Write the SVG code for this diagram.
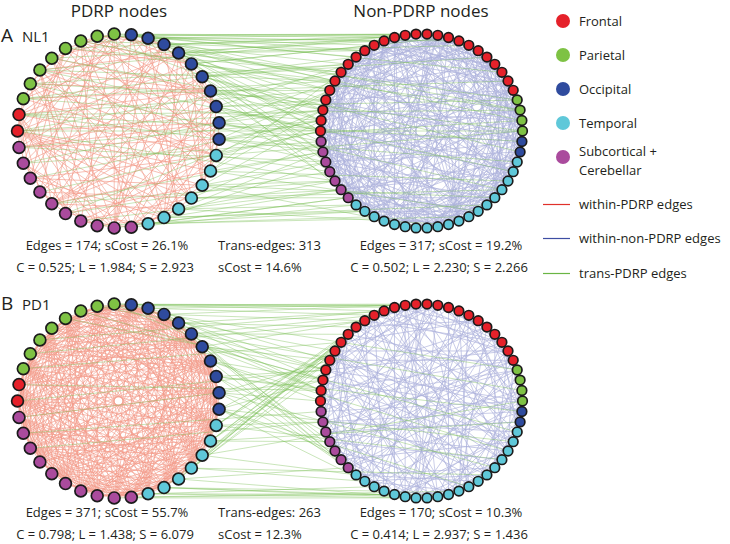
<svg xmlns="http://www.w3.org/2000/svg" xmlns:xlink="http://www.w3.org/1999/xlink" width="730" height="544" viewBox="0 0 730 544">
<style>
text{font-family:"Open Sans","Noto Sans","Liberation Sans",sans-serif;fill:#231f20}
.hd{font-size:17px}
.pl{font-size:19px}
.pn{font-size:15px}
.st{font-size:13px}
.lg{font-size:13px}
.m{text-anchor:middle}
.nd circle{stroke:#1b1b1b;stroke-width:1.7}
.f{fill:#e5212a}.p{fill:#7ec244}.o{fill:#2f4b9e}.t{fill:#5fc8d9}.s{fill:#aa4b9d}
.re{stroke:#ec5a3e;stroke-width:.55;fill:none;opacity:.62}
.be{stroke:#7880c6;stroke-width:.6;fill:none;opacity:.6}
.ge{stroke:#79be52;stroke-width:.65;fill:none;opacity:.62}
.ll{stroke-width:1.2}
</style>
<defs>
<path id="ra1" d="M97 0L84.7 47.3M97 0L20.4 94.8M97 0L-57.7 78M97 0L-93.9 24.4"/>
<path id="ra2" d="M97 0L64.1 72.8M97 0L-28.4 92.7M97 0L-88.4 39.9"/>
<path id="ra3" d="M97 0L91.5 32.3M97 0L36.2 90M97 0L-12.3 96.2M97 0L-70 67.1M97 0L-96.7 8.2"/>
<path id="ra4" d="M97 0L75.5 60.9M97 0L4.1 96.9M97 0L-43.7 86.6M97 0L-80.4 54.3"/>
<path id="rb1" d="M97 0L91.5 32.3M97 0L75.5 60.9M97 0L64.1 72.8M97 0L36.2 90M97 0L4.1 96.9M97 0L-28.4 92.7M97 0L-57.7 78M97 0L-70 67.1M97 0L-88.4 39.9M97 0L-96.7 8.2"/>
<path id="rb2" d="M97 0L84.7 47.3M97 0L75.5 60.9M97 0L50.9 82.6M97 0L20.4 94.8M97 0L-12.3 96.2M97 0L-43.7 86.6M97 0L-57.7 78M97 0L-80.4 54.3M97 0L-93.9 24.4"/>
<path id="ba1" d="M97 0L83.1 50M97 0L45.4 85.7M97 0L-15.7 95.7M97 0L-70.4 66.7M97 0L-94.7 20.8"/>
<path id="ba2" d="M97 0L88 40.7M97 0L54.4 80.3M97 0L15.7 95.7M97 0L-45.4 85.7M97 0L-88 40.7M97 0L-96.4 10.5"/>
<path id="ba3" d="M97 0L70.4 66.7M97 0L25.9 93.5M97 0L-5.2 96.9M97 0L-35.9 90.1M97 0L-83.1 50"/>
<path id="ba4" d="M97 0L62.8 73.9M97 0L35.9 90.1M97 0L5.2 96.9M97 0L-54.4 80.3M97 0L-91.9 31"/>
<path id="bb1" d="M97 0L54.4 80.3M97 0L-45.4 85.7M97 0L-96.4 10.5"/>
<path id="bb2" d="M97 0L77.2 58.7M97 0L5.2 96.9M97 0L-83.1 50"/>
<path id="bb3" d="M97 0L25.9 93.5M97 0L-62.8 73.9M97 0L-91.9 31"/>
</defs>

<g id="titles">
<text class="hd m" x="119" y="17">PDRP nodes</text>
<text class="hd m" x="421" y="17">Non-PDRP nodes</text>
<text class="pl" x="1" y="42">A</text><text class="pn" x="22" y="42">NL1</text>
<text class="pl" x="1" y="310">B</text><text class="pn" x="22" y="310">PD1</text>
</g>

<g id="connectors">
<!-- A within-PDRP -->
<g class="re" transform="translate(118.5 131) scale(1.0412 1)">
<use href="#ra1" transform="rotate(4.86)"/><use href="#ra3" transform="rotate(14.59)"/><use href="#ra2" transform="rotate(24.32)"/><use href="#ra4" transform="rotate(34.05)"/><use href="#ra3" transform="rotate(43.78)"/><use href="#ra1" transform="rotate(53.51)"/><use href="#ra4" transform="rotate(63.24)"/><use href="#ra2" transform="rotate(72.97)"/><use href="#ra1" transform="rotate(82.7)"/><use href="#ra3" transform="rotate(92.43)"/><use href="#ra4" transform="rotate(102.16)"/><use href="#ra2" transform="rotate(111.89)"/><use href="#ra3" transform="rotate(121.62)"/><use href="#ra1" transform="rotate(131.35)"/><use href="#ra2" transform="rotate(141.08)"/><use href="#ra4" transform="rotate(150.81)"/><use href="#ra1" transform="rotate(160.54)"/><use href="#ra3" transform="rotate(170.27)"/><use href="#ra3" transform="rotate(180)"/><use href="#ra4" transform="rotate(189.73)"/><use href="#ra3" transform="rotate(199.46)"/><use href="#ra1" transform="rotate(209.19)"/><use href="#ra4" transform="rotate(218.92)"/><use href="#ra2" transform="rotate(228.65)"/><use href="#ra1" transform="rotate(238.38)"/><use href="#ra3" transform="rotate(248.11)"/><use href="#ra4" transform="rotate(257.84)"/><use href="#ra2" transform="rotate(267.57)"/><use href="#ra3" transform="rotate(277.3)"/><use href="#ra1" transform="rotate(287.03)"/><use href="#ra2" transform="rotate(296.76)"/><use href="#ra4" transform="rotate(306.49)"/><use href="#ra1" transform="rotate(316.22)"/><use href="#ra3" transform="rotate(325.95)"/><use href="#ra2" transform="rotate(335.68)"/><use href="#ra4" transform="rotate(345.41)"/><use href="#ra3" transform="rotate(355.14)"/>
</g>
<!-- B within-PDRP -->
<g class="re" transform="translate(118.5 401) scale(1.0412 1)">
<use href="#rb1" transform="rotate(4.86)"/><use href="#rb2" transform="rotate(14.59)"/><use href="#rb1" transform="rotate(24.32)"/><use href="#rb2" transform="rotate(34.05)"/><use href="#rb1" transform="rotate(43.78)"/><use href="#rb2" transform="rotate(53.51)"/><use href="#rb1" transform="rotate(63.24)"/><use href="#rb2" transform="rotate(72.97)"/><use href="#rb1" transform="rotate(82.7)"/><use href="#rb2" transform="rotate(92.43)"/><use href="#rb1" transform="rotate(102.16)"/><use href="#rb2" transform="rotate(111.89)"/><use href="#rb1" transform="rotate(121.62)"/><use href="#rb2" transform="rotate(131.35)"/><use href="#rb1" transform="rotate(141.08)"/><use href="#rb2" transform="rotate(150.81)"/><use href="#rb1" transform="rotate(160.54)"/><use href="#rb2" transform="rotate(170.27)"/><use href="#rb1" transform="rotate(180)"/><use href="#rb2" transform="rotate(189.73)"/><use href="#rb1" transform="rotate(199.46)"/><use href="#rb2" transform="rotate(209.19)"/><use href="#rb1" transform="rotate(218.92)"/><use href="#rb2" transform="rotate(228.65)"/><use href="#rb1" transform="rotate(238.38)"/><use href="#rb2" transform="rotate(248.11)"/><use href="#rb1" transform="rotate(257.84)"/><use href="#rb2" transform="rotate(267.57)"/><use href="#rb1" transform="rotate(277.3)"/><use href="#rb2" transform="rotate(287.03)"/><use href="#rb1" transform="rotate(296.76)"/><use href="#rb2" transform="rotate(306.49)"/><use href="#rb1" transform="rotate(316.22)"/><use href="#rb2" transform="rotate(325.95)"/><use href="#rb1" transform="rotate(335.68)"/><use href="#rb2" transform="rotate(345.41)"/><use href="#rb1" transform="rotate(355.14)"/>
</g>
<!-- A within-non-PDRP -->
<g class="be" transform="translate(421.5 131) scale(1.0412 1)">
<use href="#ba1"/><use href="#ba2" transform="rotate(6.21)"/><use href="#ba3" transform="rotate(12.41)"/><use href="#ba4" transform="rotate(18.62)"/><use href="#ba2" transform="rotate(24.83)"/><use href="#ba1" transform="rotate(31.03)"/><use href="#ba4" transform="rotate(37.24)"/><use href="#ba3" transform="rotate(43.45)"/><use href="#ba2" transform="rotate(49.66)"/><use href="#ba4" transform="rotate(55.86)"/><use href="#ba1" transform="rotate(62.07)"/><use href="#ba3" transform="rotate(68.28)"/><use href="#ba3" transform="rotate(74.48)"/><use href="#ba2" transform="rotate(80.69)"/><use href="#ba4" transform="rotate(86.9)"/><use href="#ba1" transform="rotate(93.1)"/><use href="#ba2" transform="rotate(99.31)"/><use href="#ba3" transform="rotate(105.52)"/><use href="#ba1" transform="rotate(111.72)"/><use href="#ba4" transform="rotate(117.93)"/><use href="#ba4" transform="rotate(124.14)"/><use href="#ba2" transform="rotate(130.34)"/><use href="#ba3" transform="rotate(136.55)"/><use href="#ba1" transform="rotate(142.76)"/><use href="#ba3" transform="rotate(148.97)"/><use href="#ba4" transform="rotate(155.17)"/><use href="#ba2" transform="rotate(161.38)"/><use href="#ba1" transform="rotate(167.59)"/><use href="#ba2" transform="rotate(173.79)"/><use href="#ba1" transform="rotate(180)"/><use href="#ba3" transform="rotate(186.21)"/><use href="#ba4" transform="rotate(192.41)"/><use href="#ba1" transform="rotate(198.62)"/><use href="#ba3" transform="rotate(204.83)"/><use href="#ba2" transform="rotate(211.03)"/><use href="#ba4" transform="rotate(217.24)"/><use href="#ba4" transform="rotate(223.45)"/><use href="#ba1" transform="rotate(229.66)"/><use href="#ba2" transform="rotate(235.86)"/><use href="#ba3" transform="rotate(242.07)"/><use href="#ba3" transform="rotate(248.28)"/><use href="#ba2" transform="rotate(254.48)"/><use href="#ba1" transform="rotate(260.69)"/><use href="#ba4" transform="rotate(266.9)"/><use href="#ba2" transform="rotate(273.1)"/><use href="#ba3" transform="rotate(279.31)"/><use href="#ba4" transform="rotate(285.52)"/><use href="#ba1" transform="rotate(291.72)"/><use href="#ba1" transform="rotate(297.93)"/><use href="#ba4" transform="rotate(304.14)"/><use href="#ba3" transform="rotate(310.34)"/><use href="#ba2" transform="rotate(316.55)"/><use href="#ba2" transform="rotate(322.76)"/><use href="#ba3" transform="rotate(328.97)"/><use href="#ba1" transform="rotate(335.17)"/><use href="#ba4" transform="rotate(341.38)"/><use href="#ba3" transform="rotate(347.59)"/><use href="#ba2" transform="rotate(353.79)"/>
</g>
<!-- B within-non-PDRP -->
<g class="be" transform="translate(421.5 401) scale(1.0412 1)">
<use href="#bb1"/><use href="#bb3" transform="rotate(6.21)"/><use href="#bb2" transform="rotate(12.41)"/><use href="#bb2" transform="rotate(18.62)"/><use href="#bb1" transform="rotate(24.83)"/><use href="#bb3" transform="rotate(31.03)"/><use href="#bb1" transform="rotate(37.24)"/><use href="#bb2" transform="rotate(43.45)"/><use href="#bb3" transform="rotate(49.66)"/><use href="#bb3" transform="rotate(55.86)"/><use href="#bb2" transform="rotate(62.07)"/><use href="#bb1" transform="rotate(68.28)"/><use href="#bb2" transform="rotate(74.48)"/><use href="#bb3" transform="rotate(80.69)"/><use href="#bb1" transform="rotate(86.9)"/><use href="#bb1" transform="rotate(93.1)"/><use href="#bb3" transform="rotate(99.31)"/><use href="#bb2" transform="rotate(105.52)"/><use href="#bb3" transform="rotate(111.72)"/><use href="#bb1" transform="rotate(117.93)"/><use href="#bb2" transform="rotate(124.14)"/><use href="#bb2" transform="rotate(130.34)"/><use href="#bb3" transform="rotate(136.55)"/><use href="#bb1" transform="rotate(142.76)"/><use href="#bb3" transform="rotate(148.97)"/><use href="#bb2" transform="rotate(155.17)"/><use href="#bb1" transform="rotate(161.38)"/><use href="#bb1" transform="rotate(167.59)"/><use href="#bb2" transform="rotate(173.79)"/><use href="#bb3" transform="rotate(180)"/><use href="#bb2" transform="rotate(186.21)"/><use href="#bb1" transform="rotate(192.41)"/><use href="#bb3" transform="rotate(198.62)"/><use href="#bb3" transform="rotate(204.83)"/><use href="#bb1" transform="rotate(211.03)"/><use href="#bb2" transform="rotate(217.24)"/><use href="#bb1" transform="rotate(223.45)"/><use href="#bb3" transform="rotate(229.66)"/><use href="#bb2" transform="rotate(235.86)"/><use href="#bb2" transform="rotate(242.07)"/><use href="#bb3" transform="rotate(248.28)"/><use href="#bb1" transform="rotate(254.48)"/><use href="#bb3" transform="rotate(260.69)"/><use href="#bb1" transform="rotate(266.9)"/><use href="#bb2" transform="rotate(273.1)"/><use href="#bb1" transform="rotate(279.31)"/><use href="#bb2" transform="rotate(285.52)"/><use href="#bb3" transform="rotate(291.72)"/><use href="#bb3" transform="rotate(297.93)"/><use href="#bb2" transform="rotate(304.14)"/><use href="#bb1" transform="rotate(310.34)"/><use href="#bb2" transform="rotate(316.55)"/><use href="#bb1" transform="rotate(322.76)"/><use href="#bb3" transform="rotate(328.97)"/><use href="#bb1" transform="rotate(335.17)"/><use href="#bb3" transform="rotate(341.38)"/><use href="#bb2" transform="rotate(347.59)"/><use href="#bb3" transform="rotate(353.79)"/>
</g>
<!-- A trans-PDRP -->
<path class="ge" d="M97.2 36.2L384.1 40.9M114.2 34.1L405.2 35.3M131.3 34.8L394.5 37.5M131.3 34.8L427 34.1M148.1 38.2L374.2 45.3M148.1 38.2L416 34.1M164 44.4L384.1 40.9M164 44.4L437.8 35.3M178.6 53L364.8 50.7M178.6 53L405.2 35.3M191.4 63.9L374.2 45.3M191.4 63.9L448.5 37.5M114.2 34.1L356.1 57.1M97.2 36.2L427 34.1M148.1 38.2L458.9 40.9M164 44.4L348.2 64.3M178.6 53L468.8 45.3M131.3 34.8L364.8 50.7
M164 44.4L329.8 90.3M178.6 53L321.1 120.5M178.6 53L341.1 72.3M191.4 63.9L320.5 131M191.4 63.9L335 81M202.2 76.7L322.9 110.1M202.2 76.7L348.2 64.3M202.2 76.7L322.9 151.9M210.5 91L321.1 120.5M210.5 91L329.8 90.3M210.5 91L329.8 171.7M216.2 106.6L325.8 100M216.2 106.6L320.5 131M216.2 106.6L335 181M219.1 122.8L322.9 110.1M219.1 122.8L321.1 141.5M219.1 122.8L335 81M219.1 139.2L321.1 120.5M219.1 139.2L325.8 162M219.1 139.2L329.8 90.3M202.2 76.7L341.1 189.7M191.4 63.9L325.8 162M210.5 91L321.1 141.5M216.2 106.6L348.2 64.3M178.6 53L322.9 151.9M164 44.4L320.5 131M148.1 38.2L322.9 110.1M131.3 34.8L335 81M114.2 34.1L325.8 100M97.2 36.2L321.1 120.5M80.8 41L329.8 90.3M65.5 48.4L341.1 72.3M51.8 58.2L322.9 110.1M39.9 70L335 81
M164 44.4L521.9 120.5M191.4 63.9L520.1 110.1M210.5 91L522.5 131M219.1 122.8L521.9 141.5M216.2 106.6L517.2 100M202.2 76.7L520.1 151.9M219.1 139.2L521.9 120.5M216.2 155.4L522.5 131M178.6 53L517.2 100M148.1 38.2L520.1 110.1M131.3 34.8L501.9 72.3M202.2 76.7L486.9 57.1M216.2 106.6L513.2 171.7M219.1 122.8L501.9 189.7M210.5 91L508 81M219.1 139.2L517.2 162M210.5 171L508 181M202.2 185.3L494.8 197.7
M17.5 131L322.9 110.1M17.5 131L341.1 72.3M19 114.6L329.8 90.3M19 114.6L320.5 131M17.5 131L522.5 131M19 114.6L520.1 110.1M19 147.4L321.1 120.5M23.3 98.7L335 81M30.3 83.7L348.2 64.3M23.3 163.3L321.1 141.5
M216.2 155.4L320.5 131M216.2 155.4L329.8 171.7M210.5 171L322.9 151.9M210.5 171L322.9 110.1M202.2 185.3L335 181M202.2 185.3L325.8 162M191.4 198.1L341.1 189.7M191.4 198.1L348.2 197.7M178.6 209L356.1 204.9M178.6 209L335 181M164 217.6L364.8 211.3M164 217.6L341.1 189.7M148.1 223.8L374.2 216.7M148.1 223.8L348.2 197.7M216.2 155.4L329.8 90.3M210.5 171L341.1 72.3M202.2 185.3L321.1 120.5M191.4 198.1L321.1 141.5M178.6 209L322.9 151.9M164 217.6L486.9 204.9M148.1 223.8L468.8 216.7M178.6 209L448.5 224.5M191.4 198.1L501.9 189.7M202.2 185.3L427 227.9M210.5 171L478.2 211.3M131.3 227.2L356.1 204.9M114.2 227.9L348.2 197.7M97.2 225.8L364.8 211.3M164 217.6L325.8 162
M39.9 70L405.2 35.3M65.5 48.4L427 34.1M80.8 41L364.8 50.7M51.8 58.2L384.1 40.9M23.3 98.7L321.1 120.5M30.3 83.7L322.9 151.9M65.5 213.6L329.8 171.7M39.9 192L320.5 131M80.8 221L341.1 189.7M51.8 203.8L322.9 151.9
M30.3 178.3L321.1 120.5M23.3 163.3L325.8 100M19 147.4L325.8 162M23.3 98.7L356.1 57.1M30.3 83.7L325.8 100M51.8 203.8L335 181M65.5 213.6L322.9 110.1M19 114.6L322.9 151.9M17.5 131L335 181M39.9 70L320.5 131"/>
<!-- B trans-PDRP -->
<path class="ge" d="M114.2 304.1L394.5 307.5M131.3 304.8L384.1 310.9M131.3 304.8L416 304.1M148.1 308.2L374.2 315.3M148.1 308.2L405.2 305.3M164 314.4L364.8 320.7M164 314.4L427 304.1M178.6 323L384.1 310.9M178.6 323L356.1 327.1M191.4 333.9L374.2 315.3M97.2 306.2L405.2 305.3M114.2 304.1L437.8 305.3M191.4 333.9L348.2 334.3M202.2 346.7L364.8 320.7
M164 314.4L322.9 380.1M178.6 323L321.1 390.5M191.4 333.9L325.8 370M202.2 346.7L321.1 390.5M202.2 346.7L329.8 360.3M210.5 361L322.9 380.1M210.5 361L320.5 401M216.2 376.6L325.8 370M216.2 376.6L321.1 390.5M219.1 392.8L329.8 360.3M219.1 392.8L320.5 401M219.1 409.2L322.9 380.1M219.1 409.2L335 351M148.1 308.2L329.8 360.3M131.3 304.8L325.8 370M114.2 304.1L321.1 390.5M97.2 306.2L335 351M80.8 311L322.9 380.1M65.5 318.4L325.8 370
M216.2 425.4L335 351M216.2 425.4L348.2 334.3M210.5 441L329.8 360.3M210.5 441L341.1 342.3M202.2 455.3L335 351M202.2 455.3L356.1 327.1M191.4 468.1L341.1 342.3M191.4 468.1L325.8 370M178.6 479L348.2 334.3M178.6 479L329.8 360.3M164 487.6L335 351M216.2 425.4L364.8 320.7M210.5 441L374.2 315.3
M178.6 323L335 451M191.4 333.9L348.2 467.7M202.2 346.7L329.8 441.7M210.5 361L356.1 474.9M216.2 376.6L325.8 432M219.1 392.8L341.1 459.7M219.1 409.2L335 451M164 314.4L348.2 467.7M219.1 409.2L364.8 481.3M216.2 376.6L374.2 486.7
M202.2 346.7L517.2 432M210.5 361L508 451M216.2 376.6L521.9 411.5M219.1 392.8L494.8 467.7M219.1 409.2L513.2 441.7M216.2 425.4L501.9 459.7M210.5 441L520.1 421.9M191.4 333.9L521.9 390.5M202.2 455.3L522.5 401M191.4 468.1L486.9 474.9M164 314.4L517.2 370M219.1 409.2L468.8 486.7
M178.6 479L405.2 496.7M164 487.6L427 497.9M164 487.6L384.1 491.1M148.1 493.8L416 497.9M148.1 493.8L448.5 494.5M131.3 497.2L394.5 494.5M191.4 468.1L364.8 481.3M178.6 479L348.2 467.7M164 487.6L437.8 496.7M202.2 455.3L356.1 474.9M148.1 493.8L374.2 486.7M131.3 497.2L458.9 491.1M114.2 497.9L427 497.9M210.5 441L329.8 441.7M216.2 425.4L322.9 421.9
M17.5 401L325.8 370M19 384.6L321.1 390.5M23.3 368.7L341.1 342.3M19 417.4L322.9 380.1M30.3 353.7L364.8 320.7M23.3 433.3L321.1 411.5M39.9 340L384.1 310.9M30.3 448.3L322.9 421.9"/>
</g>

<g id="nodes-A-pdrp" class="nd">
<g id="A-p0"><circle class="o" cx="219.1" cy="139.2" r="5.9"/></g>
<g id="A-p1"><circle class="t" cx="216.2" cy="155.4" r="5.9"/></g>
<g id="A-p2"><circle class="t" cx="210.5" cy="171" r="5.9"/></g>
<g id="A-p3"><circle class="t" cx="202.2" cy="185.3" r="5.9"/></g>
<g id="A-p4"><circle class="t" cx="191.4" cy="198.1" r="5.9"/></g>
<g id="A-p5"><circle class="t" cx="178.6" cy="209" r="5.9"/></g>
<g id="A-p6"><circle class="t" cx="164" cy="217.6" r="5.9"/></g>
<g id="A-p7"><circle class="t" cx="148.1" cy="223.8" r="5.9"/></g>
<g id="A-p8"><circle class="s" cx="131.3" cy="227.2" r="5.9"/></g>
<g id="A-p9"><circle class="s" cx="114.2" cy="227.9" r="5.9"/></g>
<g id="A-p10"><circle class="s" cx="97.2" cy="225.8" r="5.9"/></g>
<g id="A-p11"><circle class="s" cx="80.8" cy="221" r="5.9"/></g>
<g id="A-p12"><circle class="s" cx="65.5" cy="213.6" r="5.9"/></g>
<g id="A-p13"><circle class="s" cx="51.8" cy="203.8" r="5.9"/></g>
<g id="A-p14"><circle class="s" cx="39.9" cy="192" r="5.9"/></g>
<g id="A-p15"><circle class="s" cx="30.3" cy="178.3" r="5.9"/></g>
<g id="A-p16"><circle class="s" cx="23.3" cy="163.3" r="5.9"/></g>
<g id="A-p17"><circle class="s" cx="19" cy="147.4" r="5.9"/></g>
<g id="A-p18"><circle class="f" cx="17.5" cy="131" r="5.9"/></g>
<g id="A-p19"><circle class="f" cx="19" cy="114.6" r="5.9"/></g>
<g id="A-p20"><circle class="p" cx="23.3" cy="98.7" r="5.9"/></g>
<g id="A-p21"><circle class="p" cx="30.3" cy="83.7" r="5.9"/></g>
<g id="A-p22"><circle class="p" cx="39.9" cy="70" r="5.9"/></g>
<g id="A-p23"><circle class="p" cx="51.8" cy="58.2" r="5.9"/></g>
<g id="A-p24"><circle class="p" cx="65.5" cy="48.4" r="5.9"/></g>
<g id="A-p25"><circle class="p" cx="80.8" cy="41" r="5.9"/></g>
<g id="A-p26"><circle class="p" cx="97.2" cy="36.2" r="5.9"/></g>
<g id="A-p27"><circle class="p" cx="114.2" cy="34.1" r="5.9"/></g>
<g id="A-p28"><circle class="o" cx="131.3" cy="34.8" r="5.9"/></g>
<g id="A-p29"><circle class="o" cx="148.1" cy="38.2" r="5.9"/></g>
<g id="A-p30"><circle class="o" cx="164" cy="44.4" r="5.9"/></g>
<g id="A-p31"><circle class="o" cx="178.6" cy="53" r="5.9"/></g>
<g id="A-p32"><circle class="o" cx="191.4" cy="63.9" r="5.9"/></g>
<g id="A-p33"><circle class="o" cx="202.2" cy="76.7" r="5.9"/></g>
<g id="A-p34"><circle class="o" cx="210.5" cy="91" r="5.9"/></g>
<g id="A-p35"><circle class="o" cx="216.2" cy="106.6" r="5.9"/></g>
<g id="A-p36"><circle class="o" cx="219.1" cy="122.8" r="5.9"/></g>
</g>

<g id="nodes-A-nonpdrp" class="nd">
<g id="A-n0"><circle class="p" cx="522.5" cy="131" r="4.8"/></g>
<g id="A-n1"><circle class="o" cx="521.9" cy="141.5" r="4.8"/></g>
<g id="A-n2"><circle class="o" cx="520.1" cy="151.9" r="4.8"/></g>
<g id="A-n3"><circle class="t" cx="517.2" cy="162" r="4.8"/></g>
<g id="A-n4"><circle class="t" cx="513.2" cy="171.7" r="4.8"/></g>
<g id="A-n5"><circle class="t" cx="508" cy="181" r="4.8"/></g>
<g id="A-n6"><circle class="t" cx="501.9" cy="189.7" r="4.8"/></g>
<g id="A-n7"><circle class="t" cx="494.8" cy="197.7" r="4.8"/></g>
<g id="A-n8"><circle class="t" cx="486.9" cy="204.9" r="4.8"/></g>
<g id="A-n9"><circle class="t" cx="478.2" cy="211.3" r="4.8"/></g>
<g id="A-n10"><circle class="t" cx="468.8" cy="216.7" r="4.8"/></g>
<g id="A-n11"><circle class="t" cx="458.9" cy="221.1" r="4.8"/></g>
<g id="A-n12"><circle class="t" cx="448.5" cy="224.5" r="4.8"/></g>
<g id="A-n13"><circle class="t" cx="437.8" cy="226.7" r="4.8"/></g>
<g id="A-n14"><circle class="t" cx="427" cy="227.9" r="4.8"/></g>
<g id="A-n15"><circle class="t" cx="416" cy="227.9" r="4.8"/></g>
<g id="A-n16"><circle class="t" cx="405.2" cy="226.7" r="4.8"/></g>
<g id="A-n17"><circle class="t" cx="394.5" cy="224.5" r="4.8"/></g>
<g id="A-n18"><circle class="t" cx="384.1" cy="221.1" r="4.8"/></g>
<g id="A-n19"><circle class="t" cx="374.2" cy="216.7" r="4.8"/></g>
<g id="A-n20"><circle class="t" cx="364.8" cy="211.3" r="4.8"/></g>
<g id="A-n21"><circle class="t" cx="356.1" cy="204.9" r="4.8"/></g>
<g id="A-n22"><circle class="s" cx="348.2" cy="197.7" r="4.8"/></g>
<g id="A-n23"><circle class="s" cx="341.1" cy="189.7" r="4.8"/></g>
<g id="A-n24"><circle class="s" cx="335" cy="181" r="4.8"/></g>
<g id="A-n25"><circle class="s" cx="329.8" cy="171.7" r="4.8"/></g>
<g id="A-n26"><circle class="s" cx="325.8" cy="162" r="4.8"/></g>
<g id="A-n27"><circle class="s" cx="322.9" cy="151.9" r="4.8"/></g>
<g id="A-n28"><circle class="s" cx="321.1" cy="141.5" r="4.8"/></g>
<g id="A-n29"><circle class="f" cx="320.5" cy="131" r="4.8"/></g>
<g id="A-n30"><circle class="f" cx="321.1" cy="120.5" r="4.8"/></g>
<g id="A-n31"><circle class="f" cx="322.9" cy="110.1" r="4.8"/></g>
<g id="A-n32"><circle class="f" cx="325.8" cy="100" r="4.8"/></g>
<g id="A-n33"><circle class="f" cx="329.8" cy="90.3" r="4.8"/></g>
<g id="A-n34"><circle class="f" cx="335" cy="81" r="4.8"/></g>
<g id="A-n35"><circle class="f" cx="341.1" cy="72.3" r="4.8"/></g>
<g id="A-n36"><circle class="f" cx="348.2" cy="64.3" r="4.8"/></g>
<g id="A-n37"><circle class="f" cx="356.1" cy="57.1" r="4.8"/></g>
<g id="A-n38"><circle class="f" cx="364.8" cy="50.7" r="4.8"/></g>
<g id="A-n39"><circle class="f" cx="374.2" cy="45.3" r="4.8"/></g>
<g id="A-n40"><circle class="f" cx="384.1" cy="40.9" r="4.8"/></g>
<g id="A-n41"><circle class="f" cx="394.5" cy="37.5" r="4.8"/></g>
<g id="A-n42"><circle class="f" cx="405.2" cy="35.3" r="4.8"/></g>
<g id="A-n43"><circle class="f" cx="416" cy="34.1" r="4.8"/></g>
<g id="A-n44"><circle class="f" cx="427" cy="34.1" r="4.8"/></g>
<g id="A-n45"><circle class="f" cx="437.8" cy="35.3" r="4.8"/></g>
<g id="A-n46"><circle class="f" cx="448.5" cy="37.5" r="4.8"/></g>
<g id="A-n47"><circle class="f" cx="458.9" cy="40.9" r="4.8"/></g>
<g id="A-n48"><circle class="f" cx="468.8" cy="45.3" r="4.8"/></g>
<g id="A-n49"><circle class="f" cx="478.2" cy="50.7" r="4.8"/></g>
<g id="A-n50"><circle class="f" cx="486.9" cy="57.1" r="4.8"/></g>
<g id="A-n51"><circle class="f" cx="494.8" cy="64.3" r="4.8"/></g>
<g id="A-n52"><circle class="f" cx="501.9" cy="72.3" r="4.8"/></g>
<g id="A-n53"><circle class="f" cx="508" cy="81" r="4.8"/></g>
<g id="A-n54"><circle class="f" cx="513.2" cy="90.3" r="4.8"/></g>
<g id="A-n55"><circle class="p" cx="517.2" cy="100" r="4.8"/></g>
<g id="A-n56"><circle class="p" cx="520.1" cy="110.1" r="4.8"/></g>
<g id="A-n57"><circle class="p" cx="521.9" cy="120.5" r="4.8"/></g>
</g>

<g id="nodes-B-pdrp" class="nd">
<g id="B-p0"><circle class="o" cx="219.1" cy="409.2" r="5.9"/></g>
<g id="B-p1"><circle class="t" cx="216.2" cy="425.4" r="5.9"/></g>
<g id="B-p2"><circle class="t" cx="210.5" cy="441" r="5.9"/></g>
<g id="B-p3"><circle class="t" cx="202.2" cy="455.3" r="5.9"/></g>
<g id="B-p4"><circle class="t" cx="191.4" cy="468.1" r="5.9"/></g>
<g id="B-p5"><circle class="t" cx="178.6" cy="479" r="5.9"/></g>
<g id="B-p6"><circle class="t" cx="164" cy="487.6" r="5.9"/></g>
<g id="B-p7"><circle class="t" cx="148.1" cy="493.8" r="5.9"/></g>
<g id="B-p8"><circle class="s" cx="131.3" cy="497.2" r="5.9"/></g>
<g id="B-p9"><circle class="s" cx="114.2" cy="497.9" r="5.9"/></g>
<g id="B-p10"><circle class="s" cx="97.2" cy="495.8" r="5.9"/></g>
<g id="B-p11"><circle class="s" cx="80.8" cy="491" r="5.9"/></g>
<g id="B-p12"><circle class="s" cx="65.5" cy="483.6" r="5.9"/></g>
<g id="B-p13"><circle class="s" cx="51.8" cy="473.8" r="5.9"/></g>
<g id="B-p14"><circle class="s" cx="39.9" cy="462" r="5.9"/></g>
<g id="B-p15"><circle class="s" cx="30.3" cy="448.3" r="5.9"/></g>
<g id="B-p16"><circle class="s" cx="23.3" cy="433.3" r="5.9"/></g>
<g id="B-p17"><circle class="s" cx="19" cy="417.4" r="5.9"/></g>
<g id="B-p18"><circle class="f" cx="17.5" cy="401" r="5.9"/></g>
<g id="B-p19"><circle class="f" cx="19" cy="384.6" r="5.9"/></g>
<g id="B-p20"><circle class="p" cx="23.3" cy="368.7" r="5.9"/></g>
<g id="B-p21"><circle class="p" cx="30.3" cy="353.7" r="5.9"/></g>
<g id="B-p22"><circle class="p" cx="39.9" cy="340" r="5.9"/></g>
<g id="B-p23"><circle class="p" cx="51.8" cy="328.2" r="5.9"/></g>
<g id="B-p24"><circle class="p" cx="65.5" cy="318.4" r="5.9"/></g>
<g id="B-p25"><circle class="p" cx="80.8" cy="311" r="5.9"/></g>
<g id="B-p26"><circle class="p" cx="97.2" cy="306.2" r="5.9"/></g>
<g id="B-p27"><circle class="p" cx="114.2" cy="304.1" r="5.9"/></g>
<g id="B-p28"><circle class="o" cx="131.3" cy="304.8" r="5.9"/></g>
<g id="B-p29"><circle class="o" cx="148.1" cy="308.2" r="5.9"/></g>
<g id="B-p30"><circle class="o" cx="164" cy="314.4" r="5.9"/></g>
<g id="B-p31"><circle class="o" cx="178.6" cy="323" r="5.9"/></g>
<g id="B-p32"><circle class="o" cx="191.4" cy="333.9" r="5.9"/></g>
<g id="B-p33"><circle class="o" cx="202.2" cy="346.7" r="5.9"/></g>
<g id="B-p34"><circle class="o" cx="210.5" cy="361" r="5.9"/></g>
<g id="B-p35"><circle class="o" cx="216.2" cy="376.6" r="5.9"/></g>
<g id="B-p36"><circle class="o" cx="219.1" cy="392.8" r="5.9"/></g>
</g>

<g id="nodes-B-nonpdrp" class="nd">
<g id="B-n0"><circle class="p" cx="522.5" cy="401" r="4.8"/></g>
<g id="B-n1"><circle class="o" cx="521.9" cy="411.5" r="4.8"/></g>
<g id="B-n2"><circle class="o" cx="520.1" cy="421.9" r="4.8"/></g>
<g id="B-n3"><circle class="t" cx="517.2" cy="432" r="4.8"/></g>
<g id="B-n4"><circle class="t" cx="513.2" cy="441.7" r="4.8"/></g>
<g id="B-n5"><circle class="t" cx="508" cy="451" r="4.8"/></g>
<g id="B-n6"><circle class="t" cx="501.9" cy="459.7" r="4.8"/></g>
<g id="B-n7"><circle class="t" cx="494.8" cy="467.7" r="4.8"/></g>
<g id="B-n8"><circle class="t" cx="486.9" cy="474.9" r="4.8"/></g>
<g id="B-n9"><circle class="t" cx="478.2" cy="481.3" r="4.8"/></g>
<g id="B-n10"><circle class="t" cx="468.8" cy="486.7" r="4.8"/></g>
<g id="B-n11"><circle class="t" cx="458.9" cy="491.1" r="4.8"/></g>
<g id="B-n12"><circle class="t" cx="448.5" cy="494.5" r="4.8"/></g>
<g id="B-n13"><circle class="t" cx="437.8" cy="496.7" r="4.8"/></g>
<g id="B-n14"><circle class="t" cx="427" cy="497.9" r="4.8"/></g>
<g id="B-n15"><circle class="t" cx="416" cy="497.9" r="4.8"/></g>
<g id="B-n16"><circle class="t" cx="405.2" cy="496.7" r="4.8"/></g>
<g id="B-n17"><circle class="t" cx="394.5" cy="494.5" r="4.8"/></g>
<g id="B-n18"><circle class="t" cx="384.1" cy="491.1" r="4.8"/></g>
<g id="B-n19"><circle class="t" cx="374.2" cy="486.7" r="4.8"/></g>
<g id="B-n20"><circle class="t" cx="364.8" cy="481.3" r="4.8"/></g>
<g id="B-n21"><circle class="t" cx="356.1" cy="474.9" r="4.8"/></g>
<g id="B-n22"><circle class="s" cx="348.2" cy="467.7" r="4.8"/></g>
<g id="B-n23"><circle class="s" cx="341.1" cy="459.7" r="4.8"/></g>
<g id="B-n24"><circle class="s" cx="335" cy="451" r="4.8"/></g>
<g id="B-n25"><circle class="s" cx="329.8" cy="441.7" r="4.8"/></g>
<g id="B-n26"><circle class="s" cx="325.8" cy="432" r="4.8"/></g>
<g id="B-n27"><circle class="s" cx="322.9" cy="421.9" r="4.8"/></g>
<g id="B-n28"><circle class="s" cx="321.1" cy="411.5" r="4.8"/></g>
<g id="B-n29"><circle class="f" cx="320.5" cy="401" r="4.8"/></g>
<g id="B-n30"><circle class="f" cx="321.1" cy="390.5" r="4.8"/></g>
<g id="B-n31"><circle class="f" cx="322.9" cy="380.1" r="4.8"/></g>
<g id="B-n32"><circle class="f" cx="325.8" cy="370" r="4.8"/></g>
<g id="B-n33"><circle class="f" cx="329.8" cy="360.3" r="4.8"/></g>
<g id="B-n34"><circle class="f" cx="335" cy="351" r="4.8"/></g>
<g id="B-n35"><circle class="f" cx="341.1" cy="342.3" r="4.8"/></g>
<g id="B-n36"><circle class="f" cx="348.2" cy="334.3" r="4.8"/></g>
<g id="B-n37"><circle class="f" cx="356.1" cy="327.1" r="4.8"/></g>
<g id="B-n38"><circle class="f" cx="364.8" cy="320.7" r="4.8"/></g>
<g id="B-n39"><circle class="f" cx="374.2" cy="315.3" r="4.8"/></g>
<g id="B-n40"><circle class="f" cx="384.1" cy="310.9" r="4.8"/></g>
<g id="B-n41"><circle class="f" cx="394.5" cy="307.5" r="4.8"/></g>
<g id="B-n42"><circle class="f" cx="405.2" cy="305.3" r="4.8"/></g>
<g id="B-n43"><circle class="f" cx="416" cy="304.1" r="4.8"/></g>
<g id="B-n44"><circle class="f" cx="427" cy="304.1" r="4.8"/></g>
<g id="B-n45"><circle class="f" cx="437.8" cy="305.3" r="4.8"/></g>
<g id="B-n46"><circle class="f" cx="448.5" cy="307.5" r="4.8"/></g>
<g id="B-n47"><circle class="f" cx="458.9" cy="310.9" r="4.8"/></g>
<g id="B-n48"><circle class="f" cx="468.8" cy="315.3" r="4.8"/></g>
<g id="B-n49"><circle class="f" cx="478.2" cy="320.7" r="4.8"/></g>
<g id="B-n50"><circle class="f" cx="486.9" cy="327.1" r="4.8"/></g>
<g id="B-n51"><circle class="f" cx="494.8" cy="334.3" r="4.8"/></g>
<g id="B-n52"><circle class="f" cx="501.9" cy="342.3" r="4.8"/></g>
<g id="B-n53"><circle class="f" cx="508" cy="351" r="4.8"/></g>
<g id="B-n54"><circle class="f" cx="513.2" cy="360.3" r="4.8"/></g>
<g id="B-n55"><circle class="p" cx="517.2" cy="370" r="4.8"/></g>
<g id="B-n56"><circle class="p" cx="520.1" cy="380.1" r="4.8"/></g>
<g id="B-n57"><circle class="p" cx="521.9" cy="390.5" r="4.8"/></g>
</g>

<g id="stats">
<text class="st m" x="107" y="250">Edges = 174; sCost = 26.1%</text>
<text class="st m" x="105" y="272">C = 0.525; L = 1.984; S = 2.923</text>
<text class="st" x="218" y="250">Trans-edges: 313</text>
<text class="st" x="218" y="272">sCost = 14.6%</text>
<text class="st m" x="441" y="250">Edges = 317; sCost = 19.2%</text>
<text class="st m" x="439" y="272">C = 0.502; L = 2.230; S = 2.266</text>
<text class="st m" x="107" y="517">Edges = 371; sCost = 55.7%</text>
<text class="st m" x="105" y="539">C = 0.798; L = 1.438; S = 6.079</text>
<text class="st" x="218" y="517">Trans-edges: 263</text>
<text class="st" x="218" y="539">sCost = 12.3%</text>
<text class="st m" x="441" y="517">Edges = 170; sCost = 10.3%</text>
<text class="st m" x="439" y="539">C = 0.414; L = 2.937; S = 1.436</text>
</g>

<g id="legend">
<circle class="f" cx="563" cy="21" r="7"/><text class="lg" x="579" y="25.5">Frontal</text>
<circle class="p" cx="563" cy="55" r="7"/><text class="lg" x="579" y="59.5">Parietal</text>
<circle class="o" cx="563" cy="89" r="7"/><text class="lg" x="579" y="93.5">Occipital</text>
<circle class="t" cx="563" cy="123" r="7"/><text class="lg" x="579" y="127.5">Temporal</text>
<circle class="s" cx="563" cy="157" r="7"/><text class="lg" x="579" y="156">Subcortical +</text><text class="lg" x="579" y="175">Cerebellar</text>
<line class="ll" x1="543" y1="204.5" x2="570" y2="204.5" stroke="#e0302a"/><text class="lg" x="579" y="208.5">within-PDRP edges</text>
<line class="ll" x1="543" y1="238.5" x2="570" y2="238.5" stroke="#3d4ea3"/><text class="lg" x="579" y="242.5">within-non-PDRP edges</text>
<line class="ll" x1="543" y1="273.5" x2="570" y2="273.5" stroke="#6ab544"/><text class="lg" x="579" y="277.5">trans-PDRP edges</text>
</g>
</svg>
